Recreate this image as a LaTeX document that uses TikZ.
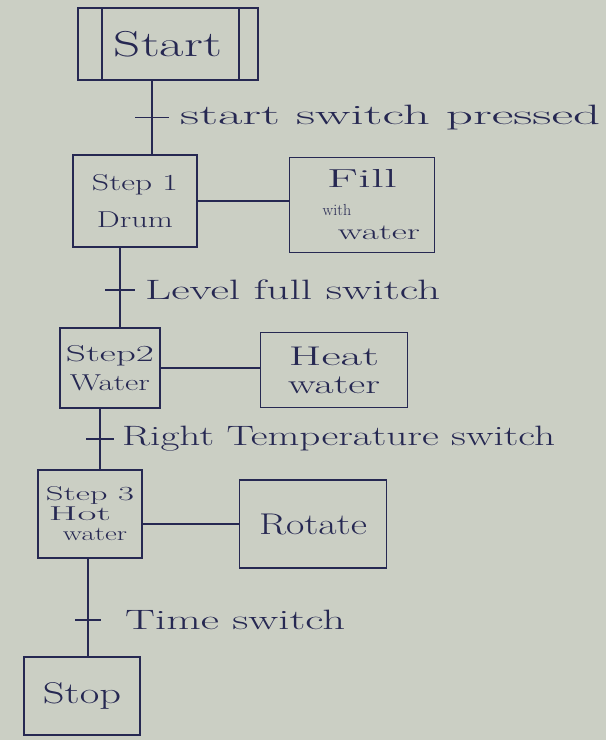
\documentclass[tikz,border=0pt]{standalone}
\usetikzlibrary{calc}
\definecolor{paper}{RGB}{203,207,196}
\definecolor{ink}{RGB}{38,40,82}
\newcommand{\wt}[2]{\resizebox{#1pt}{\height}{#2}}
\begin{document}
\begin{tikzpicture}[x=1pt,y=-1pt,
  box/.style={draw=ink, line width=1.8pt, rectangle, inner sep=0pt, text=ink, align=center},
  wire/.style={draw=ink, line width=1.8pt},
  lbl/.style={anchor=west, text=ink, inner sep=0pt, font=\fontsize{28}{30}\selectfont},
  tick/.style={draw=ink, line width=1.8pt}]
\fill[paper] (0,0) rectangle (606,740);
\useasboundingbox (0,0) rectangle (606,740);

% boxes
\node[box, minimum width=180pt, minimum height=72pt, font=\fontsize{36}{38}\selectfont] (start) at (168,44) {\wt{108}{Start}};
\draw[wire] ($(start.north west)+(25,0)$) -- ($(start.south west)+(25,0)$);
\draw[wire] ($(start.north east)+(-20,0)$) -- ($(start.south east)+(-20,0)$);

\node[box, minimum width=124pt, minimum height=92pt, font=\fontsize{23}{25}\selectfont] (step1) at (135,201) {\wt{86}{Step 1}\\[12pt]\wt{76}{Drum}};
\node[box, minimum width=145pt, minimum height=95pt, font=\fontsize{26}{26}\selectfont] (fill) at (362,205) {\wt{70}{Fill}\\[2pt]{\fontsize{16}{16}\selectfont\hspace*{-50pt}with}\\[-2pt]{\fontsize{22}{22}\selectfont\hspace*{34pt}\wt{82}{water}}};

\node[box, minimum width=100pt, minimum height=80pt, font=\fontsize{23}{25}\selectfont] (step2) at (110,368) {\wt{88}{Step2}\\[4pt]\wt{80}{Water}};
\node[box, minimum width=147pt, minimum height=75pt, font=\fontsize{27}{28}\selectfont] (heat) at (334,370) {\wt{90}{Heat}\\[0pt]\wt{92}{water}};

\node[box, minimum width=104pt, minimum height=88pt, font=\fontsize{20}{22}\selectfont] (step3) at (90,514) {\wt{88}{Step 3}\\[-2pt]\hspace*{-20pt}\wt{62}{Hot}\\[-2pt]\hspace*{10pt}\wt{64}{water}};
\node[box, minimum width=147pt, minimum height=88pt, font=\fontsize{30}{32}\selectfont] (rotate) at (313,524) {\wt{108}{Rotate}};

\node[box, minimum width=116pt, minimum height=78pt, font=\fontsize{30}{32}\selectfont] (stop) at (82,696) {\wt{78}{Stop}};

% horizontal connectors
\draw[wire] (step1.east) -- (step1.east -| fill.west);
\draw[wire] (step2.east) -- (step2.east -| heat.west);
\draw[wire] (rotate.west -| step3.east) -- (rotate.west);

% vertical connectors with transition ticks
\coordinate (c1) at (152,0);
\coordinate (c2) at (120,0);
\coordinate (c3) at (100,0);
\coordinate (c4) at (88,0);

\draw[wire] (start.south -| c1) -- (step1.north -| c1) coordinate[pos=0.5] (t1);
\draw[tick] ([xshift=-17pt]t1) -- ([xshift=17pt]t1);
\node[lbl] (l1) at ([xshift=28pt]t1) {\wt{420}{start switch pressed}};

\draw[wire] (step1.south -| c2) -- (step2.north -| c2) coordinate[pos=0.53] (t2);
\draw[tick] ([xshift=-15pt]t2) -- ([xshift=15pt]t2);
\node[lbl] (l2) at ([xshift=25pt]t2) {\wt{295}{Level full switch}};

\draw[wire] (step2.south -| c3) -- (step3.north -| c3) coordinate[pos=0.5] (t3);
\draw[tick] ([xshift=-14pt]t3) -- ([xshift=14pt]t3);
\node[lbl] (l3) at ([xshift=22pt]t3) {\wt{433}{Right Temperature switch}};

\draw[wire] (step3.south -| c4) -- (stop.north -| c4) coordinate[pos=0.63] (t4);
\draw[tick] ([xshift=-13pt]t4) -- ([xshift=13pt]t4);
\node[lbl] (l4) at ([xshift=37pt]t4) {\wt{220}{Time switch}};
\end{tikzpicture}
\end{document}
